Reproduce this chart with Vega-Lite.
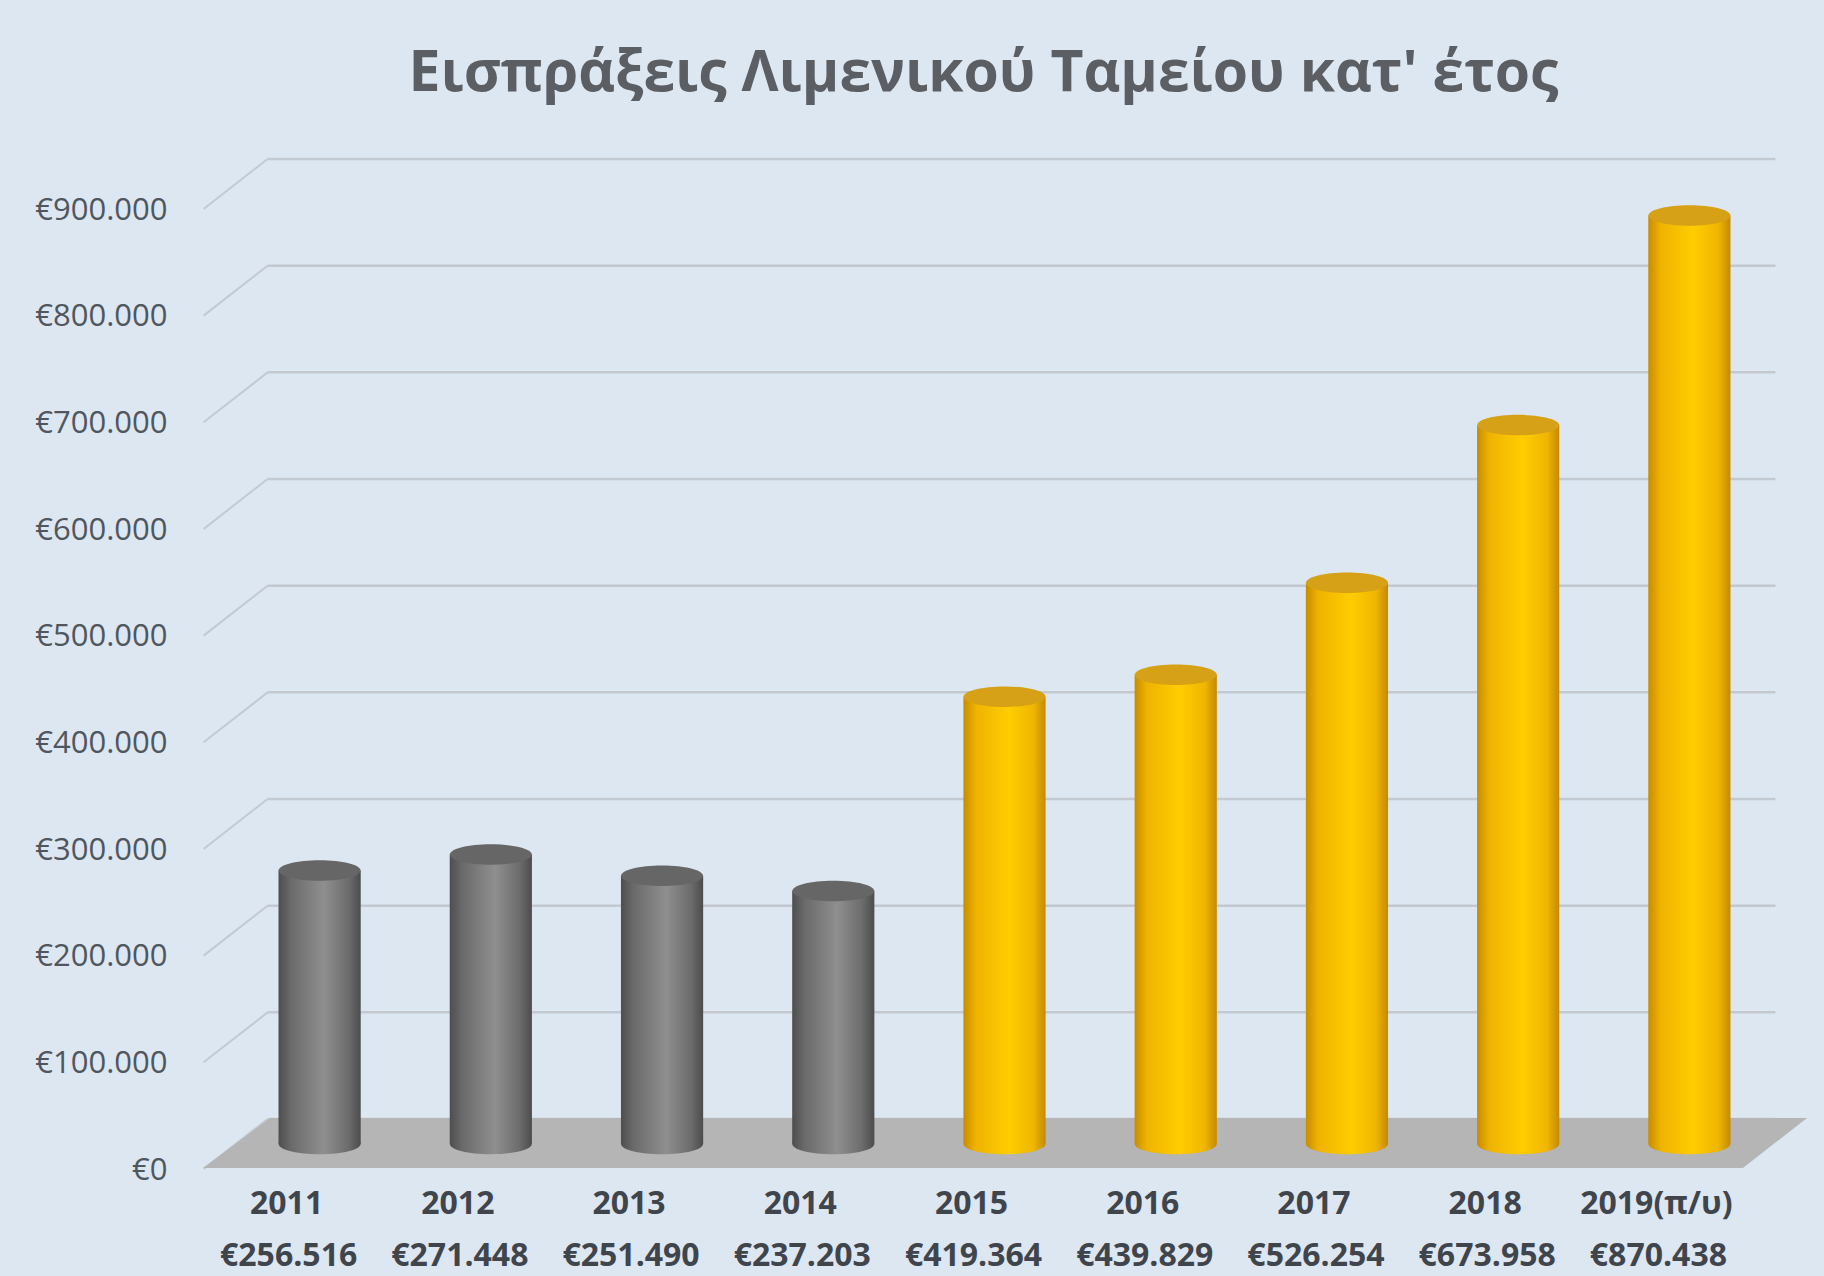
{
  "$schema": "https://vega.github.io/schema/vega-lite/v6.json",
  "width": 1541,
  "height": 960,
  "autosize": {"type": "none"},
  "padding": {"left": 234, "top": 184, "right": 49, "bottom": 132},
  "background": "#dde7f2",
  "title": {
    "text": "Εισπράξεις Λιμενικού Ταμείου κατ' έτος",
    "anchor": "middle",
    "dx": -21,
    "offset": 7,
    "baseline": "alphabetic",
    "font": "Open Sans",
    "fontSize": 57,
    "fontWeight": "bold",
    "color": "#5b5f64"
  },
  "datasets": {
    "revenue": [
      {"year": "2011", "amount": 256516},
      {"year": "2012", "amount": 271448},
      {"year": "2013", "amount": 251490},
      {"year": "2014", "amount": 237203},
      {"year": "2015", "amount": 419364},
      {"year": "2016", "amount": 439829},
      {"year": "2017", "amount": 526254},
      {"year": "2018", "amount": 673958},
      {"year": "2019(π/υ)", "amount": 870438}
    ],
    "grid": [
      {"level": 0}, {"level": 100000}, {"level": 200000}, {"level": 300000}, {"level": 400000},
      {"level": 500000}, {"level": 600000}, {"level": 700000}, {"level": 800000}, {"level": 900000}
    ]
  },
  "config": {
    "locale": {"number": {"decimal": ",", "thousands": ".", "grouping": [3], "currency": ["€", ""]}},
    "view": {"stroke": null},
    "axisX": {"title": null, "labelAngle": 0, "domain": false, "ticks": false, "labelOffset": -33,
      "labelPadding": 44, "labelFont": "Open Sans", "labelFontSize": 32, "labelAlign": "center",
      "labelFontWeight": "bold", "labelColor": "#40454c"}
  },
  "layer": [
    {
      "data": {"name": "grid"},
      "mark": {"type": "rule", "yOffset": -25, "xOffset": -52, "x2Offset": 86, "color": "#c3c9d1", "strokeWidth": 2.5},
      "encoding": {
        "x": {"datum": "2011", "type": "nominal", "axis": {"labelAngle": 0},
          "scale": {"domain": ["2011", "2012", "2013", "2014", "2015", "2016", "2017", "2018", "2019(π/υ)"]}},
        "x2": {"datum": "2019(π/υ)"},
        "y": {"field": "level", "type": "quantitative", "scale": {"domain": [0, 900000], "nice": false, "zero": true},
          "axis": {
            "values": [0, 100000, 200000, 300000, 400000, 500000, 600000, 700000, 800000, 900000],
            "format": "$,.0f",
            "title": null, "grid": false, "ticks": false, "domain": false,
            "labelPadding": 67, "labelOffset": 26,
            "labelFont": "Open Sans", "labelFontSize": 31, "labelColor": "#50565e"
          }}
      }
    },
    {
      "data": {"name": "grid"},
      "mark": {"type": "point", "filled": false, "opacity": 1, "color": "#c3c9d1", "strokeWidth": 2, "size": 4096,
        "xOffset": -84, "shape": "M -1 0.78 L 1 -0.78"},
      "encoding": {
        "x": {"datum": "2011", "type": "nominal", "axis": {"labelAngle": 0},
          "scale": {"domain": ["2011", "2012", "2013", "2014", "2015", "2016", "2017", "2018", "2019(π/υ)"]}},
        "y": {"field": "level", "type": "quantitative"}
      }
    },
    {
      "data": {"name": "revenue"},
      "transform": [{"filter": "datum.year == '2015'"}],
      "mark": {"type": "point", "filled": true, "opacity": 1, "strokeWidth": 0, "color": "#b5b5b5", "size": 2576025,
        "shape": "M -0.9988 0.0299 L 0.9202 0.0299 L 1 -0.0324 L -0.9153 -0.0324 Z"},
      "encoding": {
        "x": {"datum": "2015", "type": "nominal", "axis": {"labelAngle": 0},
          "scale": {"domain": ["2011", "2012", "2013", "2014", "2015", "2016", "2017", "2018", "2019(π/υ)"]}},
        "y": {"datum": 0, "type": "quantitative"}
      }
    },
    {
      "data": {"name": "revenue"},
      "encoding": {
        "x": {"field": "year", "type": "nominal", "sort": null, "axis": {"labelAngle": 0},
          "scale": {"domain": ["2011", "2012", "2013", "2014", "2015", "2016", "2017", "2018", "2019(π/υ)"]}}
      },
      "layer": [
        {
          "mark": {"type": "point", "filled": true, "opacity": 1, "strokeWidth": 0, "size": 6724,
            "shape": "M -1 0 C -1 -0.138 -0.552 -0.25 0 -0.25 C 0.552 -0.25 1 -0.138 1 0 C 1 0.138 0.552 0.25 0 0.25 C -0.552 0.25 -1 0.138 -1 0 Z"},
          "encoding": {
            "y": {"datum": 0, "type": "quantitative"},
            "color": {
              "condition": {"test": "toNumber(slice(datum.year, 0, 4)) < 2015",
                "value": {"gradient": "linear", "x1": 0, "x2": 1, "y1": 0, "y2": 0,
                  "stops": [{"offset": 0, "color": "#4e4e4e"}, {"offset": 0.15, "color": "#6a6a6a"}, {"offset": 0.55, "color": "#8f8f8f"}, {"offset": 0.85, "color": "#6c6c6c"}, {"offset": 1, "color": "#4c4c4c"}]}},
              "value": {"gradient": "linear", "x1": 0, "x2": 1, "y1": 0, "y2": 0,
                "stops": [{"offset": 0, "color": "#c68c00"}, {"offset": 0.15, "color": "#efb300"}, {"offset": 0.55, "color": "#ffcd00"}, {"offset": 0.85, "color": "#f0b600"}, {"offset": 1, "color": "#c48a00"}]}
            }
          }
        },
        {
          "mark": {"type": "bar", "width": {"band": 0.48}},
          "encoding": {
            "y": {"field": "amount", "type": "quantitative"},
            "color": {
              "condition": {"test": "toNumber(slice(datum.year, 0, 4)) < 2015",
                "value": {"gradient": "linear", "x1": 0, "x2": 1, "y1": 0, "y2": 0,
                  "stops": [{"offset": 0, "color": "#4e4e4e"}, {"offset": 0.15, "color": "#6a6a6a"}, {"offset": 0.55, "color": "#8f8f8f"}, {"offset": 0.85, "color": "#6c6c6c"}, {"offset": 1, "color": "#4c4c4c"}]}},
              "value": {"gradient": "linear", "x1": 0, "x2": 1, "y1": 0, "y2": 0,
                "stops": [{"offset": 0, "color": "#c68c00"}, {"offset": 0.15, "color": "#efb300"}, {"offset": 0.55, "color": "#ffcd00"}, {"offset": 0.85, "color": "#f0b600"}, {"offset": 1, "color": "#c48a00"}]}
            }
          }
        },
        {
          "mark": {"type": "point", "filled": true, "opacity": 1, "strokeWidth": 0, "size": 6724,
            "shape": "M -1 0 C -1 -0.138 -0.552 -0.25 0 -0.25 C 0.552 -0.25 1 -0.138 1 0 C 1 0.138 0.552 0.25 0 0.25 C -0.552 0.25 -1 0.138 -1 0 Z"},
          "encoding": {
            "y": {"field": "amount", "type": "quantitative"},
            "color": {
              "condition": {"test": "toNumber(slice(datum.year, 0, 4)) < 2015", "value": "#666666"},
              "value": "#d6a117"
            }
          }
        },
        {
          "mark": {"type": "text", "dy": 112, "xOffset": -31, "font": "Open Sans",
            "fontSize": 32, "fontWeight": "bold", "color": "#40454c"},
          "encoding": {
            "y": {"datum": 0, "type": "quantitative"},
            "text": {"field": "amount", "type": "quantitative", "format": "$,"}
          }
        }
      ]
    }
  ]
}
